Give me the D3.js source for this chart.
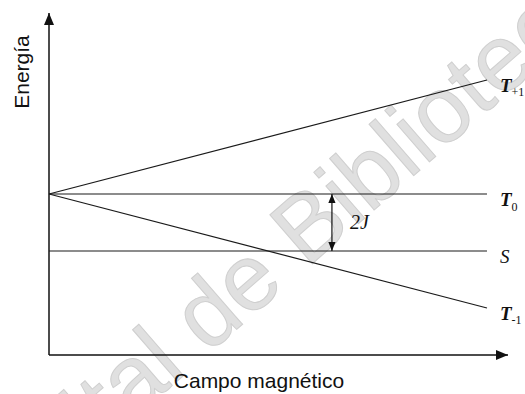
<!DOCTYPE html>
<html>
<head>
<meta charset="utf-8">
<script src="https://cdn.jsdelivr.net/npm/d3@7"></script>
<style>
  body { margin: 0; background: #fff; }
  svg { display: block; }
</style>
</head>
<body>
<div id="chart"></div>
<script>
// energy levels vs magnetic field (J = 1)
const levelNames = ['T+1', 'T0', 'S', 'T-1'];
const levelBase = ['T', 'T', 'S', 'T'];
const levelSub = ['+1', '0', '', '-1'];
const fieldStart = [0, 0, 0, 0];
const fieldEnd = [1, 1, 1, 1];
const energyStart = [0, 0, -2, 0];
const energyEnd = [4, 0, -2, -4];

// 2J gap marker
const gapField = [0.646];
const gapEnergy = [0, -2];
const gapLabel = '2J';

const xTitle = 'Campo magnético';
const yTitle = 'Energía';
const watermark = 'Digital de Biblioteca';

function levelsGraph() {
  const width = 525;
  const height = 394;

  let x = d3.scaleLinear()
      .domain([0, 1.048])
      .range([49, 508]);

  let y = d3.scaleLinear()
      .domain([-5.65, 6.35])
      .range([355, 13]);

  let svg = d3.select('#chart')
    .append('svg')
      .attr('width', width)
      .attr('height', height);

  let defs = svg.append('defs');
  defs.append('marker')
      .attr('id', 'head')
      .attr('viewBox', '0 0 12 10')
      .attr('refX', 12)
      .attr('refY', 5)
      .attr('markerWidth', 12)
      .attr('markerHeight', 10)
      .attr('markerUnits', 'userSpaceOnUse')
      .attr('orient', 'auto-start-reverse')
    .append('path')
      .attr('d', 'M0,0L12,5L0,10Z')
      .style('fill', '#111');

  defs.append('marker')
      .attr('id', 'small-head')
      .attr('viewBox', '0 0 10 8')
      .attr('refX', 10)
      .attr('refY', 4)
      .attr('markerWidth', 9)
      .attr('markerHeight', 8)
      .attr('markerUnits', 'userSpaceOnUse')
      .attr('orient', 'auto-start-reverse')
    .append('path')
      .attr('d', 'M0,0L10,4L0,8Z')
      .style('fill', '#111');

  // watermark behind the drawing
  svg.append('text')
      .attr('transform', 'translate(-9,543) rotate(-41)')
      .attr('font-family', 'Liberation Sans, Arial, sans-serif')
      .attr('font-size', 94)
      .style('fill', '#e0e0e0')
      .style('stroke', '#cfcfcf')
      .style('stroke-width', 1)
      .text(watermark);

  // axes
  svg.append('line')
      .attr('x1', x(0))
      .attr('y1', y.range()[0])
      .attr('x2', x(0))
      .attr('y2', y.range()[1])
      .attr('marker-end', 'url(#head)')
      .style('stroke', '#111')
      .style('stroke-width', 1.5);

  svg.append('line')
      .attr('x1', x(0))
      .attr('y1', y.range()[0])
      .attr('x2', x.range()[1])
      .attr('y2', y.range()[0])
      .attr('marker-end', 'url(#head)')
      .style('stroke', '#111')
      .style('stroke-width', 1.5);

  svg.append('text')
      .attr('transform', 'translate(29,72) rotate(-90)')
      .attr('text-anchor', 'middle')
      .attr('font-family', 'Liberation Sans, Arial, sans-serif')
      .attr('font-size', 21)
      .style('fill', '#111')
      .text(yTitle);

  svg.append('text')
      .attr('x', 259)
      .attr('y', 388)
      .attr('text-anchor', 'middle')
      .attr('font-family', 'Liberation Sans, Arial, sans-serif')
      .attr('font-size', 21)
      .style('fill', '#111')
      .text(xTitle);

  // level lines
  svg.append('g')
      .attr('class', 'levels')
    .selectAll('line')
      .data(levelNames)
    .enter()
    .append('line')
      .attr('x1', function(d, i) {
        return x(fieldStart[i]);
      })
      .attr('y1', function(d, i) {
        return y(energyStart[i]);
      })
      .attr('x2', function(d, i) {
        return x(fieldEnd[i]);
      })
      .attr('y2', function(d, i) {
        return y(energyEnd[i]);
      })
      .style('stroke', '#1a1a1a')
      .style('stroke-width', 1.2);

  let labels = svg.append('g')
      .attr('class', 'labels')
    .selectAll('text')
      .data(levelNames)
    .enter()
    .append('text')
      .attr('x', x(fieldEnd[0]) + 13)
      .attr('y', function(d, i) {
        return y(energyEnd[i]) + 12;
      })
      .attr('font-family', 'Liberation Serif, Times New Roman, serif')
      .attr('font-style', 'italic')
      .attr('font-size', 19)
      .style('fill', '#111');

  labels.append('tspan')
      .attr('font-weight', function(d, i) {
        return levelBase[i] === 'T' ? 'bold' : 'normal';
      })
      .text(function(d, i) {
        return levelBase[i];
      });

  labels.append('tspan')
      .attr('dy', function(d, i) {
        return levelSub[i] === '0' ? 5 : 4;
      })
      .attr('font-size', 12)
      .attr('font-style', 'normal')
      .text(function(d, i) {
        return levelSub[i];
      });

  // 2J gap arrow
  svg.append('line')
      .attr('x1', x(gapField[0]))
      .attr('y1', y(gapEnergy[0]))
      .attr('x2', x(gapField[0]))
      .attr('y2', y(gapEnergy[1]))
      .attr('marker-start', 'url(#small-head)')
      .attr('marker-end', 'url(#small-head)')
      .style('stroke', '#111')
      .style('stroke-width', 1.2);

  svg.append('text')
      .attr('x', x(gapField[0]) + 18)
      .attr('y', y((gapEnergy[0] + gapEnergy[1]) / 2) + 7)
      .attr('font-family', 'Liberation Serif, Times New Roman, serif')
      .attr('font-style', 'italic')
      .attr('font-size', 20)
      .style('fill', '#111')
      .text(gapLabel);
}

levelsGraph();
</script>
</body>
</html>
